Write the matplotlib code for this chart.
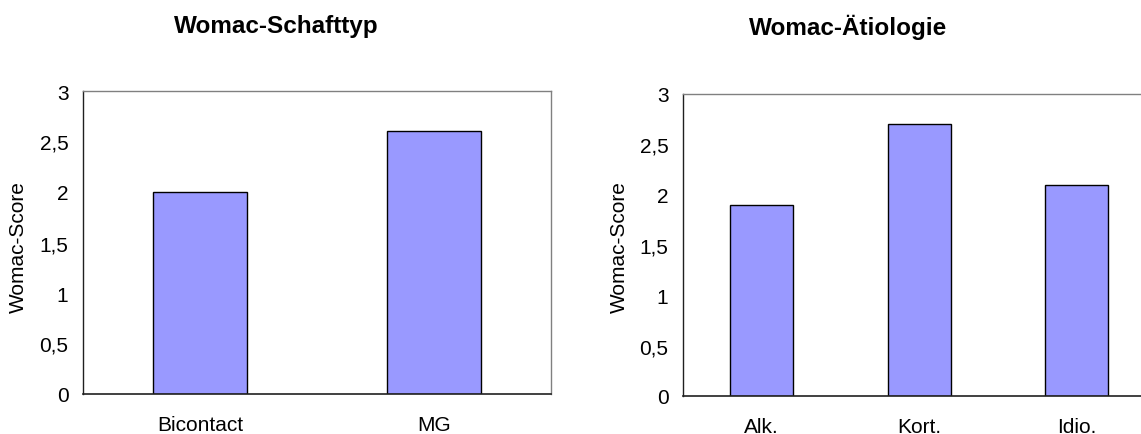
import matplotlib.pyplot as plt

plt.rcParams['font.family'] = ['Liberation Sans', 'DejaVu Sans']

# Daten
schaft_kat = ['Bicontact', 'MG']
schaft_werte = [2.0, 2.6]
aetio_kat = ['Alk.', 'Kort.', 'Idio.']
aetio_werte = [1.9, 2.7, 2.1]
y_ticks = [0, 0.5, 1, 1.5, 2, 2.5, 3]
y_labels = ['0', '0,5', '1', '1,5', '2', '2,5', '3']

W, H = 1141, 435
fig = plt.figure(figsize=(W / 100, H / 100), dpi=100)


def px_axes(x0, y0, x1, y1):
    return fig.add_axes([x0 / W, 1 - y1 / H, (x1 - x0) / W, (y1 - y0) / H])


def style(ax, kats, werte, xmax):
    x = range(len(kats))
    ax.bar(x, werte, width=0.4, color='#9999ff', edgecolor='black', linewidth=1.0)
    ax.set_xlim(-0.5, xmax)
    ax.set_ylim(0, 3)
    ax.set_yticks(y_ticks)
    ax.set_yticklabels(y_labels)
    ax.set_xticks(list(x))
    ax.set_xticklabels(kats)
    ax.tick_params(axis='y', length=0, pad=10.5, labelsize=15)
    ax.tick_params(axis='x', length=0, pad=15, labelsize=15)
    for s in ['top', 'right']:
        ax.spines[s].set_color('#808080')
        ax.spines[s].set_linewidth(1.0)
    ax.spines['left'].set_color('#202020')
    ax.spines['bottom'].set_color('#202020')
    ax.spines['left'].set_linewidth(1.0)
    ax.spines['bottom'].set_linewidth(1.2)


ax1 = px_axes(83, 92, 551, 395)
style(ax1, schaft_kat, schaft_werte, 1.5)

slot = 157.5
ax2 = px_axes(683, 95, 1141, 397)
style(ax2, aetio_kat, aetio_werte, -0.5 + (1141 - 683) / slot)
ax2.spines['right'].set_visible(False)

fig.text(276 / W, 1 - 27 / H, 'Womac-Schafttyp', ha='center', va='center',
         fontsize=17.5, fontweight='bold')
fig.text(848 / W, 1 - 27 / H, 'Womac-Ätiologie', ha='center', va='center',
         fontsize=17.5, fontweight='bold')
fig.text(18 / W, 1 - 247 / H, 'Womac-Score', ha='center', va='center',
         rotation=90, fontsize=15)
fig.text(619 / W, 1 - 247 / H, 'Womac-Score', ha='center', va='center',
         rotation=90, fontsize=15)

fig.savefig('out.png', dpi=100)
